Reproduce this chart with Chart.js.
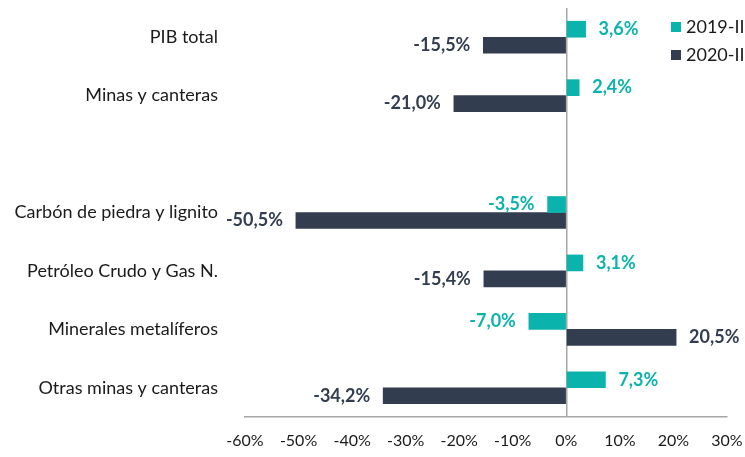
<!DOCTYPE html>
<html>
<head>
<meta charset="utf-8">
<script src="https://cdn.jsdelivr.net/npm/chart.js@4.4.1/dist/chart.umd.min.js"></script>
<style>
  html, body { margin: 0; padding: 0; background: #ffffff; }
  #wrap { position: relative; width: 745px; height: 457px; }
</style>
</head>
<body>
<div id="wrap"><canvas id="chart"></canvas></div>
<script>
// Categories (blank row separates the total from the sub-sectors)
const categories = [
  'PIB total',
  'Minas y canteras',
  '',
  'Carbón de piedra y lignito',
  'Petróleo Crudo y Gas N.',
  'Minerales metalíferos',
  'Otras minas y canteras'
];

const seriesLabels = ['2019-II', '2020-II'];
const values2019 = [3.6, 2.4, null, -3.5, 3.1, -7.0, 7.3];
const values2020 = [-15.5, -21.0, null, -50.5, -15.4, 20.5, -34.2];

const xTicks = [-60, -50, -40, -30, -20, -10, 0, 10, 20, 30];

const colors = {
  teal: '#0bb3ad',
  navy: '#333d50',
  text: '#1a1a1a',
  axis: '#a6a6a6'
};

const fontFamily = "Lato, 'Open Sans', sans-serif";

// value labels beside each bar end
const barLabels = {
  id: 'barLabels',
  afterDatasetsDraw(chart) {
    const ctx = chart.ctx;
    ctx.save();
    ctx.font = 'bold 18px ' + fontFamily;
    ctx.textBaseline = 'middle';
    chart.data.datasets.forEach((ds, di) => {
      const meta = chart.getDatasetMeta(di);
      meta.data.forEach((bar, i) => {
        const v = ds.data[i];
        if (v === null || v === undefined) return;
        const txt = v.toFixed(1).replace('.', ',') + '%';
        ctx.fillStyle = ds.backgroundColor;
        if (v >= 0) {
          ctx.textAlign = 'left';
          ctx.fillText(txt, bar.x + 13, bar.y);
        } else {
          ctx.textAlign = 'right';
          ctx.fillText(txt, bar.x - 13, bar.y);
        }
      });
    });
    ctx.restore();
  }
};

// legend in the top right corner (runs off the edge like the original)
const cornerLegend = {
  id: 'cornerLegend',
  afterDraw(chart) {
    const ctx = chart.ctx;
    ctx.save();
    ctx.font = '18px ' + fontFamily;
    ctx.textBaseline = 'middle';
    ctx.textAlign = 'left';
    chart.data.datasets.forEach((ds, i) => {
      const y = 27 + i * 28;
      ctx.fillStyle = ds.backgroundColor;
      ctx.fillRect(671, y - 5, 10, 10);
      ctx.fillStyle = colors.text;
      ctx.fillText(ds.label, 686, y);
    });
    ctx.restore();
  }
};

new Chart(document.getElementById('chart'), {
  type: 'bar',
  data: {
    labels: categories,
    datasets: [
      { label: seriesLabels[0], data: values2019, backgroundColor: colors.teal },
      { label: seriesLabels[1], data: values2020, backgroundColor: colors.navy }
    ]
  },
  options: {
    indexAxis: 'y',
    responsive: true,
    maintainAspectRatio: false,
    animation: false,
    layout: { padding: { top: 8, right: 18, left: 8, bottom: 0 } },
    datasets: {
      bar: { barThickness: 16, categoryPercentage: 0.6, barPercentage: 1 }
    },
    plugins: {
      legend: { display: false },
      tooltip: { enabled: false }
    },
    scales: {
      x: {
        min: -60,
        max: 30,
        afterBuildTicks: (scale) => { scale.ticks = xTicks.map(v => ({ value: v })); },
        afterFit: (scale) => {
          scale.height = 40;
          scale.paddingLeft = 0;
          scale.paddingRight = 0;
        },
        grid: {
          drawTicks: false,
          color: (c) => c.tick && c.tick.value === 0 ? colors.axis : 'transparent',
          lineWidth: 1.5
        },
        border: { display: true, color: colors.axis, width: 1.5 },
        ticks: {
          padding: 14,
          color: colors.text,
          font: { family: fontFamily, size: 16 },
          callback: (v) => v + '%'
        }
      },
      y: {
        afterFit: (scale) => {
          scale.width = 237;
          scale.paddingTop = 0;
          scale.paddingBottom = 0;
        },
        grid: { display: false, drawTicks: false },
        border: { display: false },
        ticks: {
          padding: 27,
          color: colors.text,
          font: { family: fontFamily, size: 18 }
        }
      }
    }
  },
  plugins: [barLabels, cornerLegend]
});
</script>
</body>
</html>
